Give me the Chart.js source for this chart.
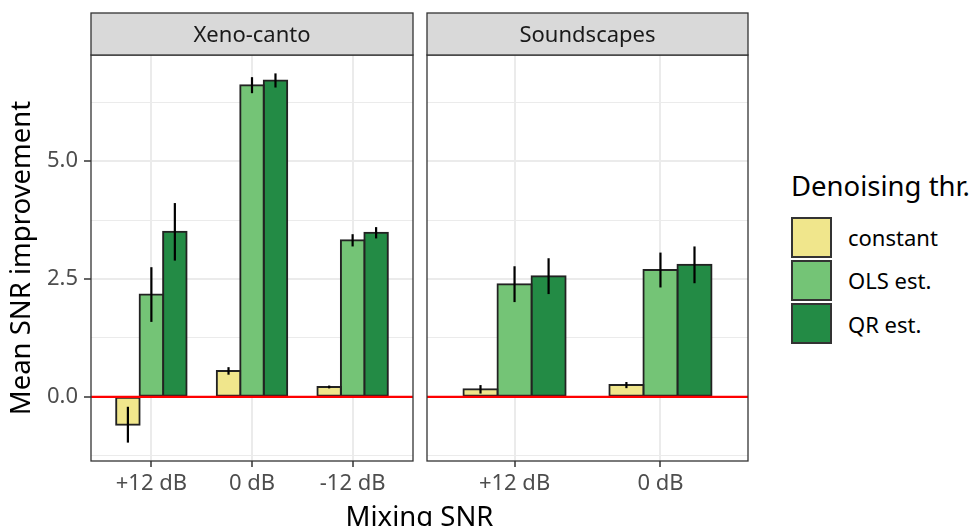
<!DOCTYPE html>
<html>
<head>
<meta charset="utf-8">
<script src="https://cdn.jsdelivr.net/npm/chart.js@4/dist/chart.umd.min.js"></script>
<style>
  body { margin: 0; background: #fff; width: 972px; height: 526px; position: relative; overflow: hidden; font-family: "Noto Sans", sans-serif; }
  #c1 { position: absolute; left: 0; top: 0; }
  #c2 { position: absolute; left: 420px; top: 0; }
  #xtitle { position: absolute; left: 91px; width: 657px; top: 502px; text-align: center; font-size: 27.5px; line-height: 1; color: #000; }
  #legend { position: absolute; left: 791px; top: 172px; }
  #legend .title { font-size: 27.5px; line-height: 1; color: #000; margin-bottom: 16px; white-space: nowrap; }
  #legend .item { display: flex; align-items: center; height: 43.3px; }
  #legend .box { width: 37px; height: 37px; border: 2px solid #333; }
  #legend .lbl { font-size: 22px; color: #000; margin-left: 16px; }
</style>
</head>
<body>
<canvas id="c1" width="420" height="526"></canvas>
<canvas id="c2" width="340" height="526"></canvas>
<div id="xtitle">Mixing SNR</div>
<div id="legend"></div>
<script>
// facets and categories
const facets = ['Xeno-canto', 'Soundscapes'];
const xenoCats = ['+12 dB', '0 dB', '-12 dB'];
const soundCats = ['+12 dB', '0 dB'];
const seriesNames = ['constant', 'OLS est.', 'QR est.'];
const seriesColors = ['#f0e68c', '#74c476', '#238b45'];

// mean SNR improvement and error half-widths
const xenoConstant = [-0.59, 0.55, 0.21];
const xenoConstantErr = [0.38, 0.08, 0.03];
const xenoOLS = [2.17, 6.61, 3.32];
const xenoOLSErr = [0.58, 0.17, 0.13];
const xenoQR = [3.50, 6.71, 3.48];
const xenoQRErr = [0.61, 0.15, 0.12];

const soundConstant = [0.16, 0.25];
const soundConstantErr = [0.09, 0.065];
const soundOLS = [2.39, 2.69];
const soundOLSErr = [0.38, 0.37];
const soundQR = [2.56, 2.80];
const soundQRErr = [0.38, 0.39];

const yTicks = [-1.25, 0, 1.25, 2.5, 3.75, 5, 6.25];
const yTickLabels = { '0': '0.0', '2.5': '2.5', '5': '5.0' };
const yMin = -1.36, yMax = 7.25;

const FONT = 'Noto Sans';

// strip, zero line, error bars and panel border
const facetPlugin = {
  id: 'facet',
  afterDatasetsDraw(chart, args, opts) {
    const ctx = chart.ctx;
    const a = chart.chartArea;
    const y = chart.scales.y;
    ctx.save();
    // red line at 0
    ctx.strokeStyle = '#ff0000';
    ctx.lineWidth = 2.2;
    const y0 = y.getPixelForValue(0);
    ctx.beginPath();
    ctx.moveTo(a.left, y0);
    ctx.lineTo(a.right, y0);
    ctx.stroke();
    // error bars
    ctx.strokeStyle = '#000';
    ctx.lineWidth = 2.2;
    chart.data.datasets.forEach((ds, i) => {
      const meta = chart.getDatasetMeta(i);
      meta.data.forEach((el, j) => {
        const v = ds.data[j].y, e = ds.errors[j];
        ctx.beginPath();
        ctx.moveTo(el.x, y.getPixelForValue(v - e));
        ctx.lineTo(el.x, y.getPixelForValue(v + e));
        ctx.stroke();
      });
    });
    // panel border
    ctx.strokeStyle = '#333';
    ctx.lineWidth = 1.3;
    ctx.strokeRect(a.left, a.top, a.right - a.left, a.bottom - a.top);
    // strip
    ctx.fillStyle = '#d9d9d9';
    ctx.fillRect(a.left, a.top - 42, a.right - a.left, 42);
    ctx.strokeRect(a.left, a.top - 42, a.right - a.left, 42);
    ctx.fillStyle = '#1a1a1a';
    ctx.font = '22px "' + FONT + '"';
    ctx.textAlign = 'center';
    ctx.textBaseline = 'alphabetic';
    ctx.fillText(opts.label, (a.left + a.right) / 2, a.top - 13);
    ctx.restore();
  }
};

function makeChart(id, label, cats, vals, errs, showY, padding) {
  const datasets = seriesNames.map((name, k) => ({
    label: name,
    data: vals[k].map((v, i) => ({ x: i, y: v })),
    errors: errs[k],
    backgroundColor: seriesColors[k],
    borderColor: '#222',
    borderWidth: 2,
    borderSkipped: false,
    inflateAmount: 1,
    categoryPercentage: 0.7,
    barPercentage: 1.0
  }));
  return new Chart(document.getElementById(id), {
    type: 'bar',
    data: { datasets: datasets },
    options: {
      responsive: false,
      animation: false,
      layout: { padding: padding },
      plugins: {
        legend: { display: false },
        tooltip: { enabled: false },
        facet: { label: label }
      },
      scales: {
        x: {
          type: 'linear',
          min: -0.6,
          max: cats.length - 0.4,
          offset: false,
          afterBuildTicks: s => { s.ticks = cats.map((c, i) => ({ value: i })); },
          afterFit: s => { s.height = 65; },
          border: { display: false },
          grid: { offset: false, color: '#ebebeb', lineWidth: 2, tickColor: '#333', tickLength: 6, tickWidth: 1.5 },
          ticks: {
            autoSkip: false, maxRotation: 0, padding: 4,
            color: '#4d4d4d', font: { family: FONT, size: 22 },
            callback: v => cats[v]
          }
        },
        y: {
          min: yMin,
          max: yMax,
          afterBuildTicks: s => { s.ticks = yTicks.map(v => ({ value: v })); },
          afterFit: s => { s.width = showY ? 91 : 0; },
          border: { display: false },
          grid: {
            color: '#ebebeb',
            lineWidth: c => (yTickLabels[String(c.tick.value)] ? 2 : 1),
            drawTicks: showY,
            tickLength: 7,
            tickWidth: 1.5,
            tickColor: c => (yTickLabels[String(c.tick.value)] ? '#333' : 'rgba(0,0,0,0)')
          },
          ticks: {
            display: showY, padding: 6,
            color: '#4d4d4d', font: { family: FONT, size: 22 },
            callback: v => yTickLabels[String(v)] || ''
          },
          title: {
            display: showY, text: 'Mean SNR improvement',
            color: '#000', font: { family: FONT, size: 27.5 },
            padding: { top: 6, bottom: 0 }
          }
        }
      }
    },
    plugins: [facetPlugin]
  });
}

makeChart('c1', facets[0], xenoCats,
  [xenoConstant, xenoOLS, xenoQR], [xenoConstantErr, xenoOLSErr, xenoQRErr],
  true, { top: 55, right: 7, left: 0, bottom: 0 });
makeChart('c2', facets[1], soundCats,
  [soundConstant, soundOLS, soundQR], [soundConstantErr, soundOLSErr, soundQRErr],
  false, { top: 55, right: 12, left: 7, bottom: 0 });

// legend
const lg = document.getElementById('legend');
lg.innerHTML = '<div class="title">Denoising thr.</div>' + seriesNames.map((n, k) =>
  '<div class="item"><div class="box" style="background:' + seriesColors[k] + '"></div><div class="lbl">' + n + '</div></div>'
).join('');
</script>
</body>
</html>
